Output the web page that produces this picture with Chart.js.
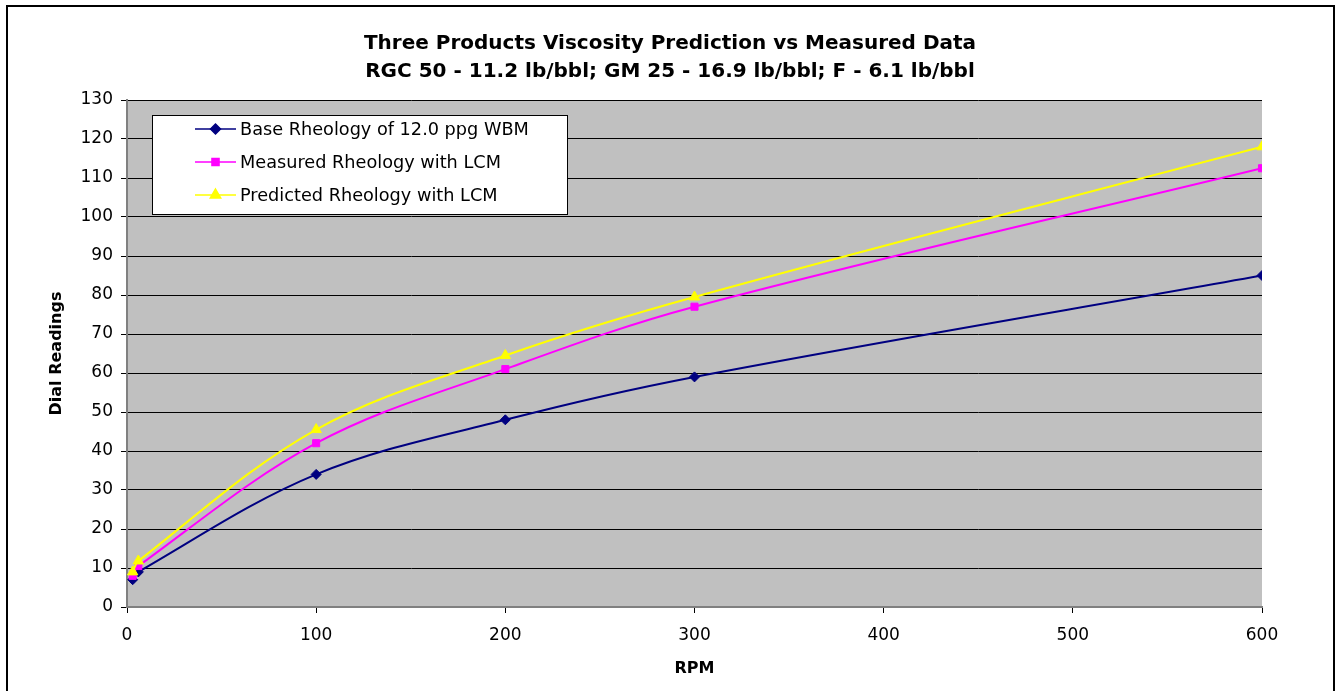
<!DOCTYPE html>
<html>
<head>
<meta charset="utf-8">
<script src="https://cdn.jsdelivr.net/npm/chart.js@4/dist/chart.umd.min.js"></script>
<style>
  html, body { margin: 0; padding: 0; background: #fff; }
  #wrap { width: 1335px; height: 691px; }
</style>
</head>
<body>
<div id="wrap"><canvas id="myChart"></canvas></div>
<script>
// rheometer speeds (RPM)
const rpm = [3, 6, 100, 200, 300, 600];

// dial readings
const baseRheology = [7, 9, 34, 48, 59, 85];
const measuredRheology = [8, 10.5, 42, 61, 77, 112.5];
const predictedRheology = [9, 11.8, 45.5, 64.5, 79.5, 118];

const seriesLabels = [
  'Base Rheology of 12.0 ppg WBM',
  'Measured Rheology with LCM',
  'Predicted Rheology with LCM'
];
const titleLines = [
  'Three Products Viscosity Prediction vs Measured Data',
  'RGC 50 - 11.2 lb/bbl; GM 25 - 16.9 lb/bbl; F - 6.1 lb/bbl'
];

const COLORS = {
  navy: '#000080',
  magenta: '#FF00FF',
  yellow: '#FFFF00'
};
const FONT = '"DejaVu Sans", Arial, sans-serif';

function pts(ys) {
  return rpm.map((x, i) => ({ x: x, y: ys[i] }));
}

// white page, outer frame, grey plot area and the two-line title
const backdrop = {
  id: 'backdrop',
  beforeDraw(chart) {
    const ctx = chart.ctx;
    const a = chart.chartArea;
    ctx.save();
    ctx.fillStyle = '#fff';
    ctx.fillRect(0, 0, chart.width, chart.height);
    ctx.strokeStyle = '#000';
    ctx.lineWidth = 2;
    ctx.strokeRect(7, 6, 1327, 700);
    ctx.fillStyle = '#C0C0C0';
    ctx.fillRect(a.left, a.top, a.right - a.left, a.bottom - a.top);

    ctx.fillStyle = '#000';
    ctx.font = 'bold 20px ' + FONT;
    ctx.textAlign = 'center';
    ctx.textBaseline = 'middle';
    titleLines.forEach((t, i) => ctx.fillText(t, 670, 44 + i * 28));
    ctx.restore();
  }
};

// legend box drawn inside the plot, like the Excel one
const boxLegend = {
  id: 'boxLegend',
  afterDatasetsDraw(chart) {
    const ctx = chart.ctx;
    const x0 = 152, y0 = 115, w = 415, h = 99;
    ctx.save();
    ctx.fillStyle = '#fff';
    ctx.fillRect(x0, y0, w, h);
    ctx.strokeStyle = '#000';
    ctx.lineWidth = 1;
    ctx.strokeRect(x0 + 0.5, y0 + 0.5, w, h);
    chart.data.datasets.forEach((ds, i) => {
      const cy = y0 + 14 + i * 33;
      ctx.strokeStyle = ds.borderColor;
      ctx.lineWidth = 1.5;
      ctx.beginPath();
      ctx.moveTo(195, cy);
      ctx.lineTo(236, cy);
      ctx.stroke();
      ctx.fillStyle = ds.borderColor;
      Chart.helpers.drawPoint(ctx, {
        pointStyle: ds.pointStyle,
        radius: ds.pointRadius,
        borderWidth: 1
      }, 215.5, cy);
      ctx.fillStyle = '#000';
      ctx.font = '17.7px ' + FONT;
      ctx.textAlign = 'left';
      ctx.textBaseline = 'middle';
      ctx.fillText(ds.label, 240, cy + 1);
    });
    ctx.restore();
  }
};

const data = {
  datasets: [
    {
      label: seriesLabels[0],
      data: pts(baseRheology),
      borderColor: COLORS.navy,
      backgroundColor: COLORS.navy,
      pointStyle: 'rectRot',
      pointRadius: 5,
      order: 3
    },
    {
      label: seriesLabels[1],
      data: pts(measuredRheology),
      borderColor: COLORS.magenta,
      backgroundColor: COLORS.magenta,
      pointStyle: 'rect',
      pointRadius: 5,
      order: 2
    },
    {
      label: seriesLabels[2],
      data: pts(predictedRheology),
      borderColor: COLORS.yellow,
      backgroundColor: COLORS.yellow,
      pointStyle: 'triangle',
      pointRadius: 6,
      order: 1
    }
  ]
};

const config = {
  type: 'line',
  data: data,
  options: {
    responsive: true,
    maintainAspectRatio: false,
    animation: false,
    layout: { padding: { left: 20, right: 73, top: 100, bottom: 0 } },
    elements: {
      line: { borderWidth: 2, tension: 0.35 },
      point: { borderWidth: 1 }
    },
    plugins: {
      legend: { display: false },
      tooltip: { enabled: false },
      title: { display: false }
    },
    scales: {
      x: {
        type: 'linear',
        min: 0,
        max: 600,
        ticks: {
          stepSize: 100,
          color: '#000',
          padding: 12,
          font: { family: FONT, size: 17 }
        },
        grid: {
          drawOnChartArea: false,
          tickLength: 6,
          color: '#000'
        },
        border: { color: '#808080', width: 2 },
        title: {
          display: true,
          text: 'RPM',
          color: '#000',
          font: { family: FONT, size: 16, weight: 'bold' },
          padding: { top: 14, bottom: 13 }
        },
        afterFit(scale) { scale.height = 84; }
      },
      y: {
        min: 0,
        max: 130,
        ticks: {
          stepSize: 10,
          color: '#000',
          padding: 8,
          font: { family: FONT, size: 17 }
        },
        grid: {
          color: '#000',
          tickLength: 6,
          lineWidth: 1
        },
        border: { color: '#808080', width: 2 },
        title: {
          display: true,
          text: 'Dial Readings',
          color: '#000',
          font: { family: FONT, size: 16, weight: 'bold' },
          padding: { top: 27, bottom: 14 }
        },
        afterFit(scale) { scale.width = 107; }
      }
    }
  },
  plugins: [backdrop, boxLegend]
};

const myChart = new Chart(document.getElementById('myChart'), config);
</script>
</body>
</html>
